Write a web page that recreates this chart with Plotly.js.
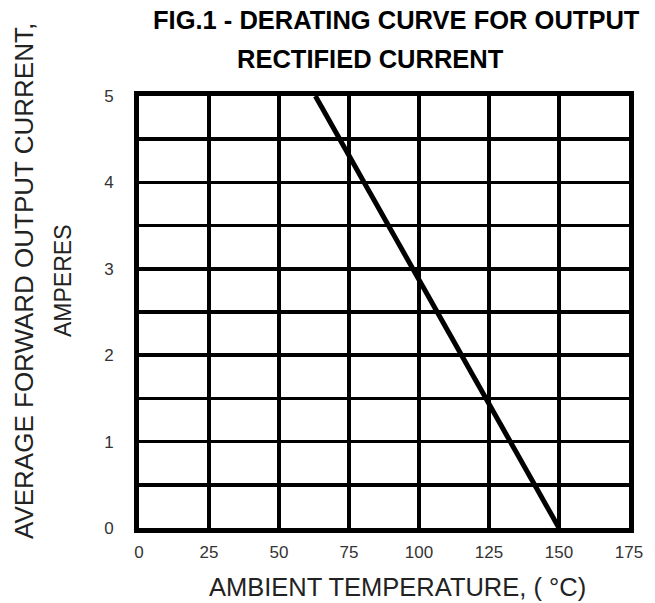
<!DOCTYPE html>
<html><head><meta charset="utf-8">
<script src="https://cdn.plot.ly/plotly-3.0.1.min.js"></script>
<style>html,body{margin:0;padding:0;background:#fff}#c{width:655px;height:603px}</style>
</head><body><div id="c"></div>
<script>
const temperature = [63, 150];
const current = [5, 0];
const xTicks = [0, 25, 50, 75, 100, 125, 150, 175];
const yTicks = [0, 1, 2, 3, 4, 5];
const titleLine1 = "FIG.1 - DERATING CURVE FOR OUTPUT";
const titleLine2 = "RECTIFIED CURRENT";
const xTitle = "AMBIENT TEMPERATURE, ( °C)";
const yTitle1 = "AVERAGE FORWARD OUTPUT CURRENT,";
const yTitle2 = "AMPERES";

const trace = {x: temperature, y: current, mode: 'lines', line: {color: '#000', width: 5}, hoverinfo: 'skip'};
const ann = (text, x, y, xs, ys, size, opts) => Object.assign({text: text, xref: 'paper', yref: 'paper', x: x, y: y, xshift: xs, yshift: ys,
  xanchor: 'center', yanchor: 'middle', showarrow: false, font: {size: size, color: '#222'}}, opts || {});
const layout = {
  width: 655, height: 603,
  margin: {l: 139, r: 26, t: 96, b: 75},
  paper_bgcolor: '#fff', plot_bgcolor: '#fff',
  showlegend: false,
  font: {family: 'Liberation Sans, Arial, sans-serif', color: '#000'},
  xaxis: {range: [0, 175], tickvals: xTicks, ticktext: xTicks.map(String), showgrid: true, gridcolor: '#000', gridwidth: 3.5,
    showline: true, linecolor: '#000', linewidth: 5, mirror: true, zeroline: false, ticks: '', tickfont: {size: 17, color: '#333'},
    ticklabelstandoff: 5},
  yaxis: {range: [0, 5], tickvals: yTicks, showgrid: true, gridcolor: '#000', gridwidth: 3.5,
    minor: {dtick: 0.5, showgrid: true, gridcolor: '#000', gridwidth: 3.5},
    showline: true, linecolor: '#000', linewidth: 5, mirror: true, zeroline: false, ticks: '', tickfont: {size: 17, color: '#333'},
    ticklabelstandoff: 17},
  annotations: [
    ann(titleLine1, 0, 1, 257, 76, 25.5, {font: {size: 25.5, color: '#000', weight: 'bold'}}),
    ann(titleLine2, 0, 1, 231, 37, 25.5, {font: {size: 25.5, color: '#000', weight: 'bold'}}),
    ann(xTitle, 0, 0, 258, -59, 25.5),
    ann(yTitle1, 0, 0.5, -115, 31, 26, {textangle: -90}),
    ann(yTitle2, 0, 0.5, -76, 31, 23, {textangle: -90})
  ]
};
Plotly.newPlot('c', [trace], layout, {displayModeBar: false, staticPlot: true});
</script></body></html>
